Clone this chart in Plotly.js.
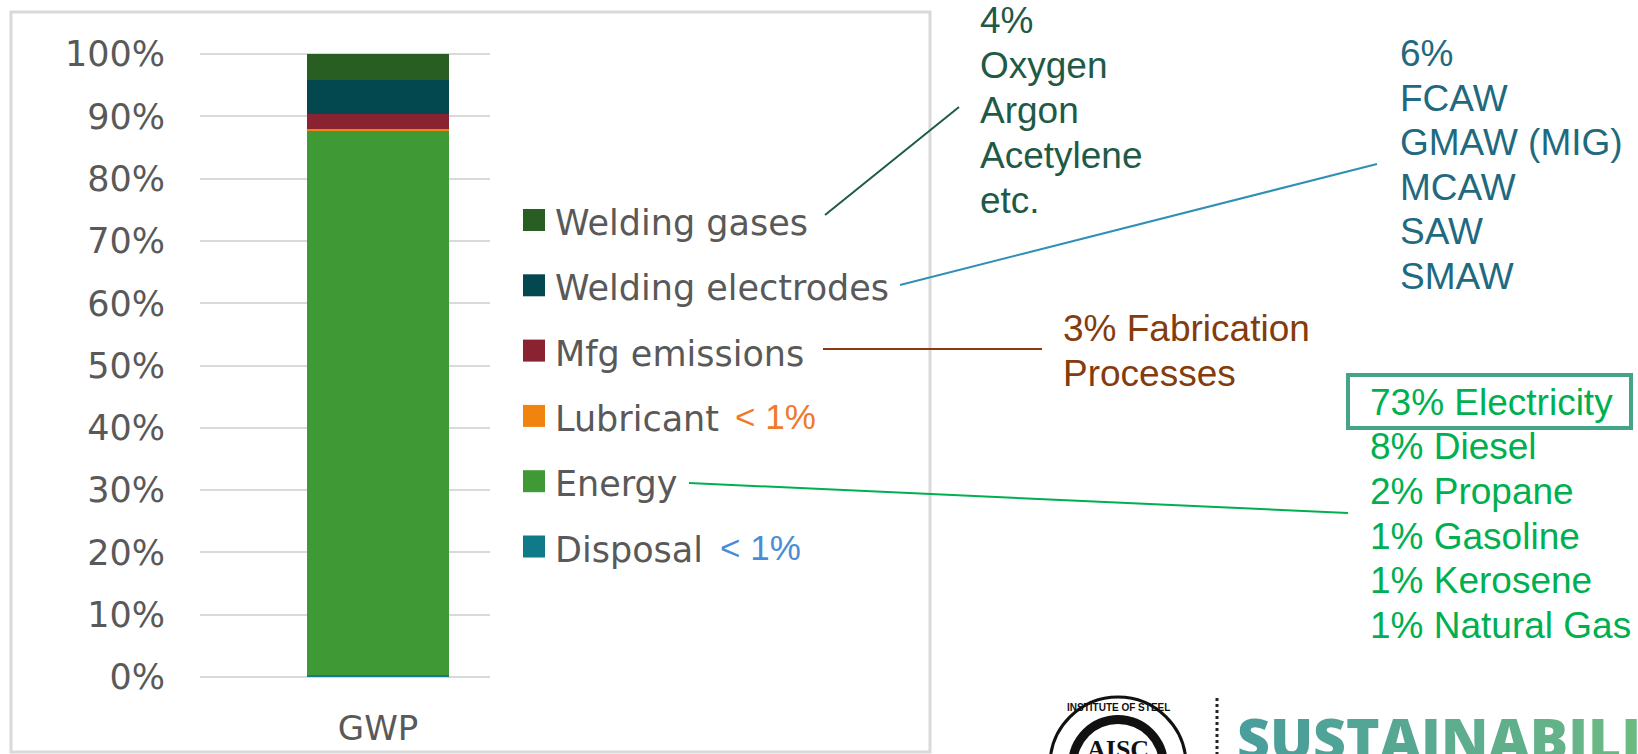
<!DOCTYPE html>
<html>
<head>
<meta charset="utf-8">
<script src="https://cdn.plot.ly/plotly-3.0.1.min.js"></script>
<style>html,body{margin:0;padding:0;background:#fff;} #chart{width:1638px;height:754px;}</style>
</head>
<body>
<div id="chart"></div>
<script>
// ---- data ----
const categories = ['GWP'];
const seriesNames = ['Disposal', 'Energy', 'Lubricant', 'Mfg emissions', 'Welding electrodes', 'Welding gases'];
const disposal = [0.3];
const energy = [87.4];
const lubricant = [0.3];
const mfgEmissions = [2.4];
const weldingElectrodes = [5.5];
const weldingGases = [4.1];
const yTickVals = [0, 10, 20, 30, 40, 50, 60, 70, 80, 90, 100];
const yTickText = ['0%', '10%', '20%', '30%', '40%', '50%', '60%', '70%', '80%', '90%', '100%'];
const lubricantNote = ['< 1%'];
const disposalNote = ['< 1%'];
const gasNotes = ['4%', 'Oxygen', 'Argon', 'Acetylene', 'etc.'];
const electrodeNotes = ['6%', 'FCAW', 'GMAW (MIG)', 'MCAW', 'SAW', 'SMAW'];
const fabNotes = ['3% Fabrication', 'Processes'];
const energyNotes = ['73% Electricity', '8% Diesel', '2% Propane', '1% Gasoline', '1% Kerosene', '1% Natural Gas'];
const logoText = ['SUSTAINABILI'];
const logoRingText = ['INSTITUTE OF STEEL'];

// ---- styling ----
const colors = ['#0f7a88', '#3f9a36', '#f0840f', '#8a2331', '#03474f', '#285e22'];
const seriesValues = [disposal, energy, lubricant, mfgEmissions, weldingElectrodes, weldingGases];

const W = 1638, H = 754;
const M = {l: 200, r: 1148, t: 48, b: 71};
const PW = W - M.l - M.r, PH = H - M.t - M.b;
const px = x => (x - M.l) / PW;
const py = y => (H - M.b - y) / PH;

const traces = seriesNames.map((n, i) => ({
  type: 'bar', name: n, x: categories, y: seriesValues[i], width: 1,
  marker: {color: colors[i], line: {width: 0}}, showlegend: false, hoverinfo: 'name+y'
}));

const shapes = [];
const annotations = [];

// chart border
shapes.push({type: 'rect', xref: 'paper', yref: 'paper', x0: px(11), x1: px(930), y0: py(12), y1: py(752),
  line: {color: '#d9d9d9', width: 3}, fillcolor: 'rgba(0,0,0,0)', layer: 'below'});

// manual legend (top to bottom: reversed order)
const legendFont = {family: 'DejaVu Sans', size: 35, color: '#595959'};
for (let k = 0; k < seriesNames.length; k++) {
  const i = seriesNames.length - 1 - k;
  const cy = 220 + 65.3 * k;
  shapes.push({type: 'rect', xref: 'paper', yref: 'paper', x0: px(523), x1: px(545), y0: py(cy - 11), y1: py(cy + 11),
    line: {width: 0}, fillcolor: colors[i]});
  annotations.push({xref: 'paper', yref: 'paper', x: px(553), y: py(cy + 3), xanchor: 'left', yanchor: 'middle',
    text: seriesNames[i], showarrow: false, font: legendFont});
}
// < 1% notes
annotations.push({xref: 'paper', yref: 'paper', x: px(733), y: py(416), xanchor: 'left', yanchor: 'middle',
  text: lubricantNote[0], showarrow: false, font: {family: 'Liberation Sans, Arial', size: 35, color: '#ef7a2c'}});
annotations.push({xref: 'paper', yref: 'paper', x: px(718), y: py(547), xanchor: 'left', yanchor: 'middle',
  text: disposalNote[0], showarrow: false, font: {family: 'Liberation Sans, Arial', size: 35, color: '#4b8cd6'}});

// note blocks
const sans = 'Liberation Sans, Arial';
function block(lines, x, firstCenter, step, size, color) {
  lines.forEach((t, j) => {
    annotations.push({xref: 'paper', yref: 'paper', x: px(x), y: py(firstCenter + step * j), xanchor: 'left', yanchor: 'middle',
      text: t, showarrow: false, font: {family: sans, size: size, color: color}});
  });
}
block(gasNotes, 978, 20.5, 45, 37, '#1f5a47');
block(electrodeNotes, 1398, 53.5, 44.6, 37, '#1f6a80');
block(fabNotes, 1061, 328, 45, 37, '#843c0c');
block(energyNotes, 1368, 402.4, 44.6, 37, '#00b050');

// connector lines
const ln = (x0, y0, x1, y1, c) => shapes.push({type: 'line', xref: 'paper', yref: 'paper',
  x0: px(x0), y0: py(y0), x1: px(x1), y1: py(y1), line: {color: c, width: 2}});
ln(825, 215, 959, 107, '#1f5a47');
ln(900, 285, 1377, 164, '#2f90b3');
ln(823, 349, 1042, 349, '#8b3a0f');
ln(689, 483, 1348, 513, '#00b050');

// electricity box
shapes.push({type: 'rect', xref: 'paper', yref: 'paper', x0: px(1348), x1: px(1631), y0: py(375), y1: py(428),
  line: {color: '#45a488', width: 4}, fillcolor: 'rgba(0,0,0,0)'});

// logo (partial, cut by the bottom edge)
shapes.push({type: 'circle', xref: 'paper', yref: 'paper', x0: px(1050), x1: px(1186), y0: py(697), y1: py(833),
  line: {color: '#111', width: 3}, fillcolor: '#fff'});
shapes.push({type: 'circle', xref: 'paper', yref: 'paper', x0: px(1068), x1: px(1168), y0: py(715), y1: py(815),
  line: {width: 0}, fillcolor: '#111'});
shapes.push({type: 'circle', xref: 'paper', yref: 'paper', x0: px(1077), x1: px(1159), y0: py(724), y1: py(806),
  line: {width: 0}, fillcolor: '#fff'});
shapes.push({type: 'line', xref: 'paper', yref: 'paper', x0: px(1217), x1: px(1217), y0: py(698), y1: py(756),
  line: {color: '#222', width: 3, dash: 'dot'}});
annotations.push({xref: 'paper', yref: 'paper', x: px(1118), y: py(707), xanchor: 'center', yanchor: 'middle',
  text: logoRingText[0], showarrow: false, font: {family: 'Liberation Sans', size: 10, color: '#111', weight: 700}});
annotations.push({xref: 'paper', yref: 'paper', x: px(1118), y: py(750), xanchor: 'center', yanchor: 'middle',
  text: 'AISC', showarrow: false, font: {family: 'Liberation Serif', size: 26, color: '#111', weight: 700}});

// gradient-coloured logo word
function lerpColor(a, b, t) {
  const pa = [1, 3, 5].map(i => parseInt(a.substr(i, 2), 16));
  const pb = [1, 3, 5].map(i => parseInt(b.substr(i, 2), 16));
  return 'rgb(' + pa.map((v, i) => Math.round(v + (pb[i] - v) * t)).join(',') + ')';
}
const letters = logoText[0].split('');
const logoHtml = letters.map((ch, i) =>
  '<span style="color:' + lerpColor('#4a9e9c', '#6cb982', i / (letters.length - 1)) + '">' + ch + '</span>').join('');
annotations.push({xref: 'paper', yref: 'paper', x: px(1235), y: py(738), xanchor: 'left', yanchor: 'middle',
  text: logoHtml, showarrow: false, font: {family: 'Open Sans', size: 57, color: '#5ba995', weight: 800}});

const layout = {
  width: W, height: H,
  margin: M,
  paper_bgcolor: '#fff', plot_bgcolor: '#fff',
  barmode: 'stack', showlegend: false,
  xaxis: {type: 'category', range: [-1.254, 0.788], showgrid: false, zeroline: false, showline: false,
    ticks: '', ticklabelstandoff: 22, tickfont: {family: 'DejaVu Sans', size: 34, color: '#595959'}},
  yaxis: {range: [-1, 101], tickmode: 'array', tickvals: yTickVals, ticktext: yTickText,
    showgrid: true, gridcolor: '#d9d9d9', gridwidth: 2,
    zeroline: false, showline: false, ticks: '', ticklabelstandoff: 34,
    tickfont: {family: 'DejaVu Sans', size: 35, color: '#595959'}},
  shapes: shapes, annotations: annotations
};

Plotly.newPlot('chart', traces, layout, {displayModeBar: false, staticPlot: true});
</script>
</body>
</html>
